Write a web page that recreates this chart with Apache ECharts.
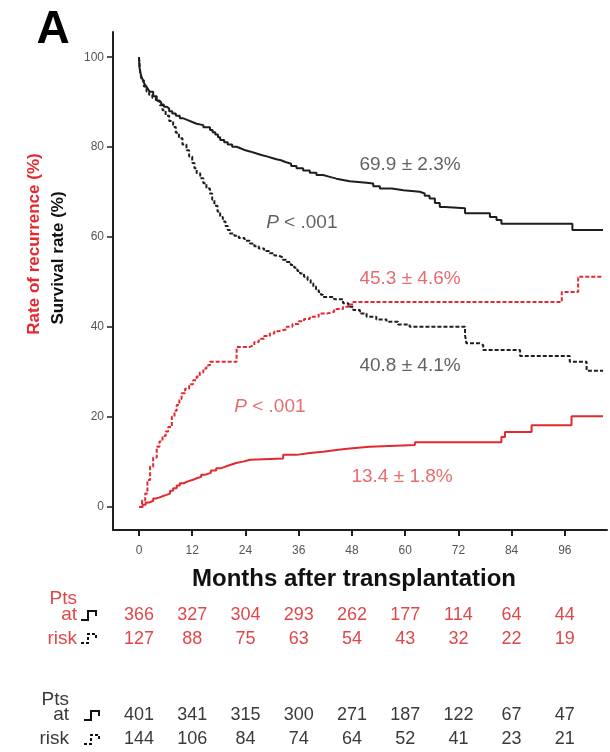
<!DOCTYPE html>
<html><head><meta charset="utf-8">
<script src="https://cdn.jsdelivr.net/npm/echarts@6/dist/echarts.min.js"></script>
<style>html,body{margin:0;padding:0;background:#fff}#c{width:610px;height:752px}</style>
</head><body><div id="c"></div>
<script>
const months = [0, 12, 24, 36, 48, 60, 72, 84, 96];
const yTicks = [0, 20, 40, 60, 80, 100];

const survivalSolid = [[0,100],[0.1,97.8],[0.3,96.6],[0.6,95.6],[1,94.5],[1.3,94],[1.7,93.4],[2.1,92.8],[2.5,92.3],[3.2,91.3],[4,90.4],[4.5,90],[5,89.5],[5.6,89],[6.2,88.6],[6.8,88],[7.5,87.5],[8.3,87],[9.2,86.4],[10,86],[11,85.6],[12,85.2],[13,84.9],[14.5,84.4],[16,83.8],[16.6,83.3],[17.2,82.8],[17.8,82.2],[18.3,81.6],[19.2,81.1],[20,80.6],[21,80.1],[22,79.7],[23,79.3],[24,79],[25.2,78.6],[26.5,78.2],[27.8,77.9],[29,77.6],[30,77.3],[31,77.1],[32,76.7],[33,76.3],[34.3,75.8],[35.5,75.3],[37,74.8],[38.5,74.3],[40,73.8],[41.5,73.4],[43,73],[44.5,72.7],[46,72.4],[47.5,72.1],[51.3,71.9],[52.8,71.3],[54.3,70.8],[57,70.4],[59.6,70.1],[63.3,69.7],[64.4,69.2],[65.5,68.6],[66.7,67.6],[67.8,66.7],[69,66.4],[73.5,65.3],[79.1,64.5],[80.6,63.8],[81.7,63],[97.7,61.6],[104.6,61.6]];
const survivalDashed = [[0,100],[0.15,98],[0.3,96.5],[0.6,94.9],[1.1,93.5],[1.7,92.3],[2.3,91.6],[3,91],[3.8,90.2],[4.7,89.3],[5.3,88.2],[6,87],[6.8,85.8],[7.7,84.5],[8.3,83.2],[9,82],[9.8,80.6],[10.7,79.3],[11.3,77.9],[12,76.5],[12.5,75.3],[13,74.2],[13.8,73.1],[14.5,72],[15.2,70.8],[16,69.7],[16.5,68.3],[17,67],[17.7,65.7],[18.3,64.5],[18.9,63.5],[19.5,62.5],[20,61.6],[20.5,60.8],[21.5,60.3],[22.5,59.8],[23.8,59.2],[25,58.6],[26,58],[27,57.5],[28.2,56.9],[29.5,56.4],[30.5,55.9],[31.5,55.5],[32.4,55],[33.3,54.5],[34.2,53.8],[35,53.2],[35.7,52.5],[36.3,51.9],[37.2,51.2],[38,50.5],[38.7,49.7],[39.3,49],[39.9,48.4],[40.5,47.8],[41,47.2],[41.5,46.7],[44,46.2],[46,45.3],[47.2,44.5],[48.3,43.8],[49.8,43],[51.3,42.3],[53.5,41.7],[55.8,41.2],[58.4,40.6],[61,40.1],[73.5,38.2],[73.8,36.4],[76.8,36],[77.6,34.9],[85.9,33.6],[97.1,32.3],[100.9,30.3],[104.6,30.3]];
const recurrenceSolid = [[0,0],[0.8,0.5],[1.5,1],[2.3,1.4],[3.2,1.9],[3.8,2.1],[4.5,2.4],[5.3,2.7],[6.2,3],[7,3.6],[7.7,4.2],[8.5,4.8],[9.2,5.3],[10.1,5.7],[11,6],[12,6.4],[13,6.7],[14,7.2],[15,7.6],[16.2,8.1],[17.4,8.6],[18.4,9],[19.5,9.4],[20.7,9.8],[21.9,10.1],[23.5,10.5],[25,10.8],[32.5,11.6],[35.5,12],[38.5,12.3],[41.5,12.7],[44.5,13],[47.5,13.4],[52,13.8],[62.2,14.4],[81.7,15.6],[82.5,16.7],[88.5,18.2],[97.5,20.2],[104.6,20.2]];
const recurrenceDashed = [[0,0],[0.7,1.5],[1.4,3],[1.9,6],[2.5,9],[3.2,11],[4,13.4],[4.6,14.6],[5.3,15.8],[6,16.8],[6.6,17.8],[7.4,20.1],[8,21.4],[8.5,22.7],[9.1,24],[9.6,25.3],[10.4,26.3],[11.3,27.3],[12.2,28.2],[13,29],[13.7,29.9],[14.5,30.8],[15.2,31.5],[16,32.3],[22,35.6],[25,36],[26,36.7],[27,37.4],[28.2,38],[29.5,38.6],[30.5,39.1],[31.5,39.5],[33.3,40.1],[34.6,40.7],[36,41.3],[37.2,41.8],[38.5,42.3],[40.5,43],[42.3,43.4],[44,44],[46,44.5],[47.2,45],[48.3,45.6],[95.3,47.8],[99,51.2],[104.6,51.2]];

const riskRecSolid = [366, 327, 304, 293, 262, 177, 114, 64, 44];
const riskRecDashed = [127, 88, 75, 63, 54, 43, 32, 22, 19];
const riskSurvSolid = [401, 341, 315, 300, 271, 187, 122, 67, 47];
const riskSurvDashed = [144, 106, 84, 74, 64, 52, 41, 23, 21];

const annotationTexts = ['69.9 ± 2.3%', '{i|P} < .001', '45.3 ± 4.6%', '40.8 ± 4.1%', '{i|P} < .001', '13.4 ± 1.8%'];
const annotationPos = [[61.1,76],[36.7,63.3],[61.1,50.7],[61.1,31.3],[29.5,22.2],[59.3,6.7]];
const annotationIsRed = [false, false, true, false, true, true];

const FONT = '"Liberation Sans", Arial, Helvetica, sans-serif';
const BLACK = '#1e1e1e';
const RED = '#e3282e';
const RED_TXT = '#e0474b';
const GRAY_TXT = '#3a3a3a';

const chart = echarts.init(document.getElementById('c'), null, {renderer: 'canvas'});

const annData = annotationTexts.map((t, i) => ({
  value: annotationPos[i],
  label: {
    show: true, position: 'inside', formatter: t,
    color: annotationIsRed[i] ? RED_TXT : GRAY_TXT,
    fontSize: 19, fontFamily: FONT,
    rich: { i: { fontStyle: 'italic', fontSize: 19, fontFamily: FONT, color: annotationIsRed[i] ? RED_TXT : GRAY_TXT } }
  }
}));

function lineSeries(data, color, dashed) {
  return {
    type: 'line', data: data, step: 'end', showSymbol: false, symbol: 'none',
    lineStyle: { color: color, width: 2, type: dashed ? [4, 2] : 'solid' },
    silent: true, z: 3
  };
}

chart.setOption({
  animation: false,
  backgroundColor: '#fff',
  grid: { left: 113, top: 32, right: 3, bottom: 222, containLabel: false },
  xAxis: {
    type: 'value', min: -5.86, max: 105.5,
    axisLine: { show: true, onZero: false, lineStyle: { color: BLACK, width: 2 } },
    axisTick: { show: true, customValues: months, length: 6, lineStyle: { color: BLACK, width: 2 } },
    axisLabel: { show: true, customValues: months, margin: 15, color: '#555', fontSize: 12, fontFamily: FONT },
    splitLine: { show: false }
  },
  yAxis: {
    type: 'value', min: -5.1, max: 105.6,
    axisLine: { show: true, onZero: false, lineStyle: { color: BLACK, width: 2 } },
    axisTick: { show: true, customValues: yTicks, length: 6, lineStyle: { color: BLACK, width: 1.5 } },
    axisLabel: { show: true, customValues: yTicks, margin: 9, color: '#555', fontSize: 12, fontFamily: FONT },
    splitLine: { show: false }
  },
  series: [
    lineSeries(survivalSolid, BLACK, false),
    lineSeries(survivalDashed, BLACK, true),
    lineSeries(recurrenceSolid, RED, false),
    lineSeries(recurrenceDashed, RED, true),
    { type: 'scatter', data: annData, symbolSize: 0, silent: true, z: 5 }
  ]
});

const g = [];
function txt(text, x, y, opts) {
  g.push({
    type: 'text', x: x, y: y, silent: true,
    style: Object.assign({ text: text, fill: '#000', font: '18px ' + FONT, align: 'center', verticalAlign: 'middle' }, opts || {})
  });
}
txt('A', 53, 30, { font: 'bold 46px ' + FONT, fill: '#000' });
g.push({ type: 'text', x: 34, y: 244, rotation: Math.PI / 2, silent: true,
  style: { text: 'Rate of recurrence (%)', fill: RED, font: 'bold 17px ' + FONT, align: 'center', verticalAlign: 'middle' } });
g.push({ type: 'text', x: 58, y: 258, rotation: Math.PI / 2, silent: true,
  style: { text: 'Survival rate (%)', fill: '#111', font: 'bold 17px ' + FONT, align: 'center', verticalAlign: 'middle' } });
txt('Months after transplantation', 354, 579, { font: 'bold 24px ' + FONT, fill: '#111' });

const redLblX = 77, blkLblX = 69;
txt('Pts', redLblX, 599, { align: 'right', fill: RED_TXT, font: '19px ' + FONT });
txt('at', redLblX, 615, { align: 'right', fill: RED_TXT, font: '19px ' + FONT });
txt('risk', redLblX, 639, { align: 'right', fill: RED_TXT, font: '19px ' + FONT });
txt('Pts', blkLblX, 700, { align: 'right', fill: GRAY_TXT, font: '19px ' + FONT });
txt('at', blkLblX, 715, { align: 'right', fill: GRAY_TXT, font: '19px ' + FONT });
txt('risk', blkLblX, 739, { align: 'right', fill: GRAY_TXT, font: '19px ' + FONT });

function icon(x0, yb, dashed) {
  g.push({ type: 'polyline', silent: true,
    shape: { points: [[x0, yb], [x0 + 7, yb], [x0 + 7, yb - 9], [x0 + 15, yb - 9], [x0 + 15, yb - 4]] },
    style: { stroke: '#111', lineWidth: 2, fill: null, lineDash: dashed ? [3, 2] : null } });
}
icon(81, 620, false);
icon(81, 643, true);
icon(84, 720, false);
icon(84, 744, true);

const rows = [
  [riskRecSolid, 615, RED_TXT],
  [riskRecDashed, 639, RED_TXT],
  [riskSurvSolid, 715, GRAY_TXT],
  [riskSurvDashed, 739, GRAY_TXT]
];
rows.forEach(r => {
  r[0].forEach((v, i) => {
    const px = chart.convertToPixel({ xAxisIndex: 0 }, months[i]);
    txt(String(v), px, r[1], { fill: r[2], font: '18px ' + FONT });
  });
});

chart.setOption({ graphic: g });
</script>
</body></html>
